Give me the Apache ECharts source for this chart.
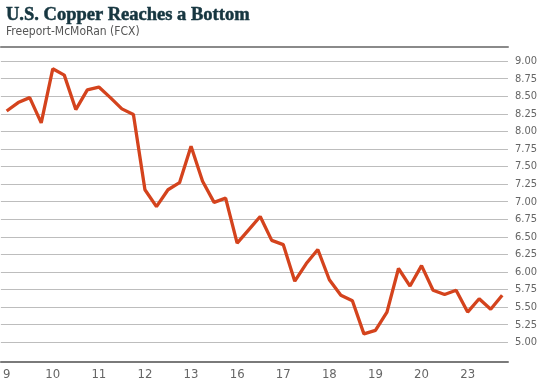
<!DOCTYPE html>
<html>
<head>
<meta charset="utf-8">
<style>
  html, body { margin: 0; padding: 0; background: #fff; }
  #chart { width: 540px; height: 386px; }
</style>
<script src="https://cdn.jsdelivr.net/npm/echarts@6/dist/echarts.min.js"></script>
</head>
<body>
<div id="chart"></div>
<script>
// FCX price, one point per period; a label every 4th point
const xLabels = ['9', '10', '11', '12', '13', '16', '17', '18', '19', '20', '23'];
const prices = [
    8.29, 8.41, 8.48, 8.12, 8.89, 8.80, 8.31, 8.59, 8.63, 8.48, 8.32,
    8.24, 7.17, 6.93, 7.17, 7.27, 7.79, 7.29, 6.99, 7.05, 6.41, 6.60,
    6.79, 6.45, 6.39, 5.87, 6.12, 6.32, 5.89, 5.67, 5.59, 5.12, 5.17,
    5.43, 6.05, 5.80, 6.09, 5.74, 5.68, 5.74, 5.43, 5.62, 5.47, 5.67,
];
const yTicks = [5.00, 5.25, 5.50, 5.75, 6.00, 6.25, 6.50, 6.75, 7.00, 7.25, 7.50, 7.75, 8.00, 8.25, 8.50, 8.75, 9.00];

const categories = prices.map((_, i) => (i % 4 === 0 ? xLabels[i / 4] : ''));

const narrow = '"DejaVu Sans Condensed", Roboto, sans-serif';

const chart = echarts.init(document.getElementById('chart'));

chart.setOption({
    animation: false,
    title: [
        {
            text: 'U.S. Copper Reaches a Bottom',
            left: 1,
            top: 1,
            textStyle: {
                fontFamily: 'Liberation Serif',
                fontWeight: 'bold',
                fontSize: 18.5,
                color: '#163640',
                textBorderColor: '#163640',
                textBorderWidth: 0.5,
            },
        },
        {
            text: 'Freeport-McMoRan (FCX)',
            left: 1,
            top: 21,
            textStyle: {
                fontFamily: narrow,
                fontWeight: 'normal',
                fontSize: 12,
                color: '#555',
            },
        },
    ],
    grid: {
        left: 0,
        right: 27,
        top: 47,
        bottom: 24,
    },
    xAxis: [
        {
            type: 'category',
            data: categories,
            boundaryGap: true,
            axisLine: { lineStyle: { color: '#7a7a7a', width: 2 } },
            axisTick: { show: false },
            axisLabel: {
                interval: 0,
                margin: 6,
                fontFamily: narrow,
                fontSize: 13,
                color: '#666',
            },
            splitLine: { show: false },
        },
        {
            type: 'category',
            position: 'top',
            data: categories,
            axisLine: { lineStyle: { color: '#8a8a8a', width: 2 } },
            axisTick: { show: false },
            axisLabel: { show: false },
            splitLine: { show: false },
        },
    ],
    yAxis: {
        type: 'value',
        position: 'right',
        min: 4.72,
        max: 9.2,
        axisLine: { show: false },
        axisTick: { show: false, customValues: yTicks },
        axisLabel: {
            customValues: yTicks,
            margin: 7,
            fontFamily: narrow,
            fontSize: 11,
            color: '#666',
            formatter: (v) => v.toFixed(2),
        },
        splitLine: { lineStyle: { color: '#bdbdbd', width: 1 } },
    },
    series: [
        {
            type: 'line',
            data: prices,
            symbol: 'none',
            lineStyle: { color: '#d4431d', width: 3.3 },
        },
    ],
});
</script>
</body>
</html>
